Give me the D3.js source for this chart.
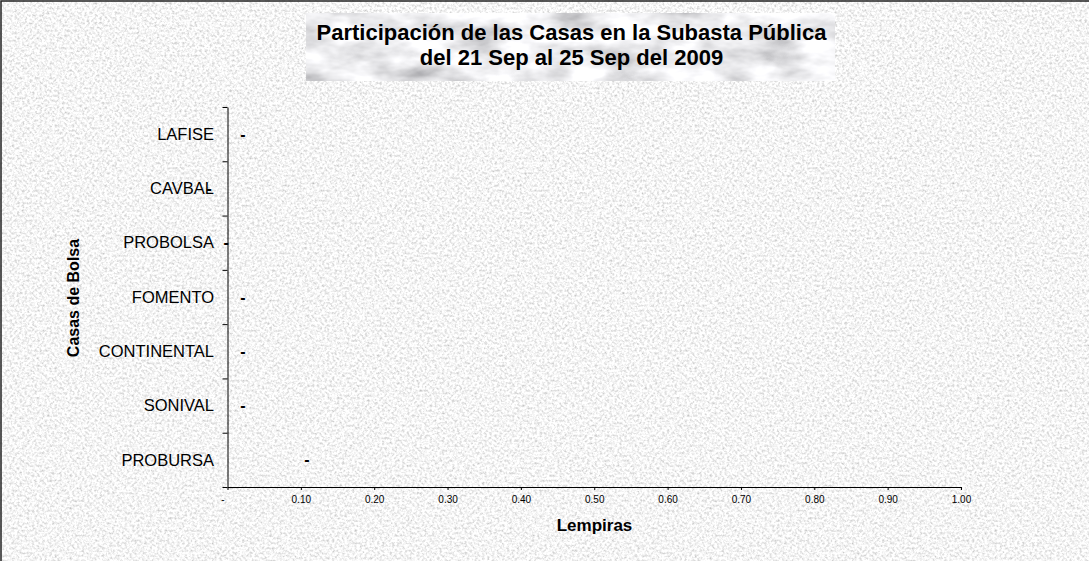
<!DOCTYPE html>
<html>
<head>
<meta charset="utf-8">
<script src="https://cdn.jsdelivr.net/npm/d3@7"></script>
<style>
  html, body { margin: 0; padding: 0; background: #e6e6e6; }
  svg { display: block; font-family: Arial, "Liberation Sans", sans-serif; }
</style>
</head>
<body>
<svg id="chart" width="1089" height="561"></svg>
<script>
// Participación de las Casas en la Subasta Pública – horizontal bars (all ~0)

const titleLines = ["Participación de las Casas en la Subasta Pública", "del 21 Sep al 25 Sep del 2009"];
const casas = ["LAFISE", "CAVBAL", "PROBOLSA", "FOMENTO", "CONTINENTAL", "SONIVAL", "PROBURSA"];
const montos = [0, -0.046, -0.023, 0, 0, 0, 0.087];
const xTicks = [0, 0.1, 0.2, 0.3, 0.4, 0.5, 0.6, 0.7, 0.8, 0.9, 1.0];
const xTitle = "Lempiras";
const yTitle = "Casas de Bolsa";

const W = 1089, H = 561;
const svg = d3.select("#chart");
const defs = svg.append("defs");

// granite background texture
const gran = defs.append("filter").attr("id", "granite")
  .attr("x", 0).attr("y", 0).attr("width", "100%").attr("height", "100%");
gran.append("feTurbulence").attr("type", "fractalNoise")
  .attr("baseFrequency", 0.4).attr("numOctaves", 3).attr("seed", 7);
gran.append("feColorMatrix").attr("type", "matrix")
  .attr("values", "0.85 0 0 0 0.49  0.85 0 0 0 0.49  0.85 0 0 0 0.49  0 0 0 0 1");

// marble texture for title box
const marble = defs.append("filter").attr("id", "marble")
  .attr("x", 0).attr("y", 0).attr("width", "100%").attr("height", "100%");
marble.append("feTurbulence").attr("type", "fractalNoise")
  .attr("baseFrequency", "0.02 0.045").attr("numOctaves", 4).attr("seed", 5);
marble.append("feColorMatrix").attr("type", "matrix")
  .attr("values", "1.0 0 0 0 0.36  1.0 0 0 0 0.36  1.0 0 0 0 0.38  0 0 0 0 1");

svg.append("rect").attr("width", W).attr("height", H).attr("filter", "url(#granite)");

// outer border (only top/left visible in the original crop)
svg.append("path").attr("d", `M1,${H} V1 H${W}`)
  .attr("fill", "none").attr("stroke", "#222").attr("stroke-width", 1.5);

// title box
svg.append("rect").attr("x", 306).attr("y", 13).attr("width", 529).attr("height", 68)
  .attr("filter", "url(#marble)");

svg.selectAll(".title").data(titleLines).join("text")
  .attr("class", "title")
  .attr("x", 571.5)
  .attr("y", (d, i) => 40 + i * 25)
  .attr("text-anchor", "middle")
  .attr("font-size", 22)
  .attr("font-weight", "bold")
  .attr("fill", "#000")
  .text((d) => d);

// scales
const x = d3.scaleLinear().domain([0, 1]).range([227.5, 961]);
const y = d3.scaleBand().domain(casas).range([107, 487]).padding(0);
const yIdx = d3.scaleLinear().domain([0, casas.length]).range([107, 487]);

// y axis with boundary ticks
const yAxisG = svg.append("g").attr("transform", "translate(227.5,0)")
  .call(d3.axisLeft(yIdx).tickValues(d3.range(casas.length + 1)).tickFormat("").tickSize(5).tickSizeOuter(0));
yAxisG.selectAll("path,line").attr("stroke", "#000");

// x axis
const xAxisG = svg.append("g").attr("transform", "translate(0,487)")
  .call(d3.axisBottom(x).tickValues(xTicks).tickSize(3).tickSizeOuter(0).tickPadding(6)
    .tickFormat((d) => (d === 0 ? "-" : d3.format(".2f")(d))));
xAxisG.selectAll("path,line").attr("stroke", "#000");
xAxisG.selectAll("text").attr("font-size", 10).attr("fill", "#000")
  .attr("font-family", "Arial, 'Liberation Sans', sans-serif")
  .attr("dx", (d) => (d === 0 ? -5 : 0));

// category labels
svg.selectAll(".cat").data(casas).join("text")
  .attr("class", "cat")
  .attr("x", 214)
  .attr("y", (d) => y(d) + y.bandwidth() / 2)
  .attr("dy", "0.35em")
  .attr("text-anchor", "end")
  .attr("font-size", 16.5)
  .attr("fill", "#000")
  .text((d) => d);

// bars (no fill in the original)
svg.selectAll(".bar").data(casas).join("rect")
  .attr("class", "bar")
  .attr("x", (d, i) => x(Math.min(0, montos[i])))
  .attr("y", (d) => y(d) + y.bandwidth() * 0.2)
  .attr("width", (d, i) => Math.abs(x(montos[i]) - x(0)))
  .attr("height", y.bandwidth() * 0.6)
  .attr("fill", "none");

// data labels: accounting format shows "-" for values that round to zero
svg.selectAll(".lbl").data(casas).join("text")
  .attr("class", "lbl")
  .attr("x", (d, i) => x(montos[i]) + 15.5)
  .attr("y", (d) => y(d) + y.bandwidth() / 2)
  .attr("dy", "0.35em")
  .attr("text-anchor", "middle")
  .attr("font-size", 16)
  .attr("font-weight", "bold")
  .attr("fill", "#000")
  .text((d, i) => (Math.round(montos[i]) === 0 ? "-" : d3.format(",.0f")(montos[i])));

// axis titles
svg.append("text")
  .attr("x", 594.5).attr("y", 531)
  .attr("text-anchor", "middle")
  .attr("font-size", 17).attr("font-weight", "bold")
  .text(xTitle);

svg.append("text")
  .attr("transform", "translate(79,298) rotate(-90)")
  .attr("text-anchor", "middle")
  .attr("font-size", 16).attr("font-weight", "bold")
  .text(yTitle);
</script>
</body>
</html>
